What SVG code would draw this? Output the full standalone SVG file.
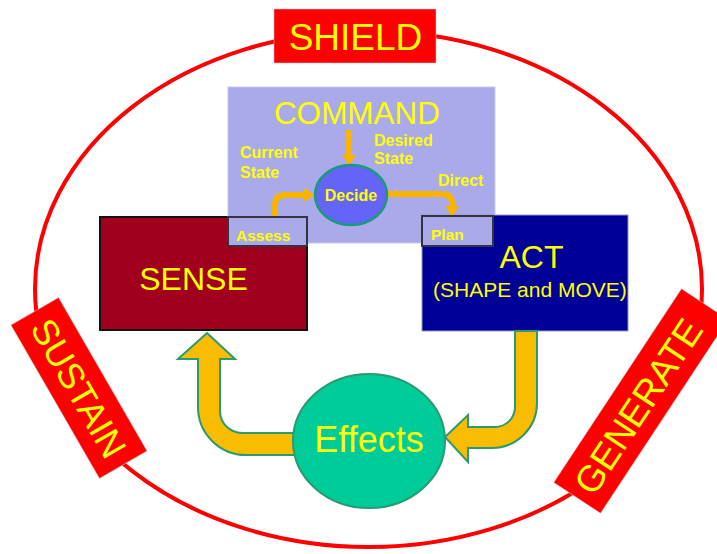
<svg xmlns="http://www.w3.org/2000/svg" width="717" height="554" viewBox="0 0 717 554">
<style>
text{font-family:"Liberation Sans",Arial,sans-serif;fill:#ffff00}
.b{font-weight:bold}
.tag{fill:#ff0000;stroke:#d0d0d0;stroke-width:0.5}
.lab{fill:#aaaaea;stroke:#333344;stroke-width:2}
.big{fill:#f9bc00;stroke:#2a9a70;stroke-width:2}
.thin{fill:none;stroke:#f9b400;stroke-width:6}
.head{fill:#f9b400}
</style>
<rect width="717" height="554" fill="#ffffff"/>
<ellipse cx="368.5" cy="289" rx="333.5" ry="258" fill="none" stroke="#ff0000" stroke-width="4"/>

<g id="command">
<rect x="228" y="87" width="267" height="156" fill="#aaaaea" stroke="#c8c8e8" stroke-width="1"/>
<text x="357" y="124" font-size="31.5" text-anchor="middle">COMMAND</text>
<text class="b" x="240" y="158" font-size="16">Current</text>
<text class="b" x="240" y="178" font-size="16">State</text>
<text class="b" x="374" y="146" font-size="16">Desired</text>
<text class="b" x="374" y="164" font-size="16">State</text>
<text class="b" x="438" y="186" font-size="16">Direct</text>
</g>

<g id="sense">
<rect x="100" y="217" width="207" height="113" fill="#a0001e" stroke="#111111" stroke-width="2"/>
<text x="193.5" y="290" font-size="32" text-anchor="middle">SENSE</text>
</g>

<g id="act">
<rect x="422" y="215" width="206" height="116" fill="#000096" stroke="#9999bb" stroke-width="1"/>
<text x="531.5" y="268" font-size="32" text-anchor="middle">ACT</text>
<text x="433" y="297" font-size="21">(SHAPE and MOVE)</text>
</g>

<g id="connectors">
<path class="thin" d="M349,130 V156"/>
<polygon class="head" points="342,155 356,155 349,166"/>
<path class="thin" d="M275,218 V205 Q275,195 285,195 H305"/>
<polygon class="head" points="304,188 304,202 315,195"/>
<path class="thin" d="M387,194 H442 Q452,194 452,204 V207"/>
<polygon class="head" points="445,206 459,206 452,217"/>
<path class="big" d="M207,333 L235,359 L220,359 L220,411 A22,22 0 0 0 242,433 L310,433 L310,455 L246,455 A48,48 0 0 1 198,407 L198,359 L178,359 Z"/>
<path class="big" d="M515,331 L537,331 L537,403 A45,45 0 0 1 492,448 L468,448 L468,462 L445,437 L468,415 L468,427 L495,427 A20,20 0 0 0 515,407 Z"/>
</g>

<g id="assess">
<rect class="lab" x="228" y="217" width="79" height="29"/>
<text class="b" x="236" y="241" font-size="15.5">Assess</text>
</g>
<g id="plan">
<rect class="lab" x="422" y="216" width="71" height="30"/>
<text class="b" x="431" y="240" font-size="15.5">Plan</text>
</g>

<g id="decide">
<ellipse cx="351" cy="195" rx="36" ry="30" fill="#6464f8" stroke="#1a9a7a" stroke-width="2.5"/>
<text class="b" x="351" y="201" font-size="16" text-anchor="middle">Decide</text>
</g>

<g id="effects">
<ellipse cx="369" cy="441" rx="76" ry="67" fill="#00cc99" stroke="#2a9a70" stroke-width="2"/>
<text x="369" y="452" font-size="36" text-anchor="middle">Effects</text>
</g>

<g id="shield">
<rect class="tag" x="274" y="9" width="162" height="54"/>
<text x="355.5" y="50" font-size="37" text-anchor="middle">SHIELD</text>
</g>

<g id="sustain" transform="translate(79,388) rotate(60)">
<rect class="tag" x="-88.5" y="-27.5" width="177" height="55"/>
<text x="0" y="13" font-size="36" text-anchor="middle">SUSTAIN</text>
</g>

<g id="generate" transform="translate(641,401) rotate(-56.6)">
<rect class="tag" x="-116" y="-28" width="232" height="56"/>
<text x="-6" y="13.5" font-size="37" text-anchor="middle">GENERATE</text>
</g>
</svg>
